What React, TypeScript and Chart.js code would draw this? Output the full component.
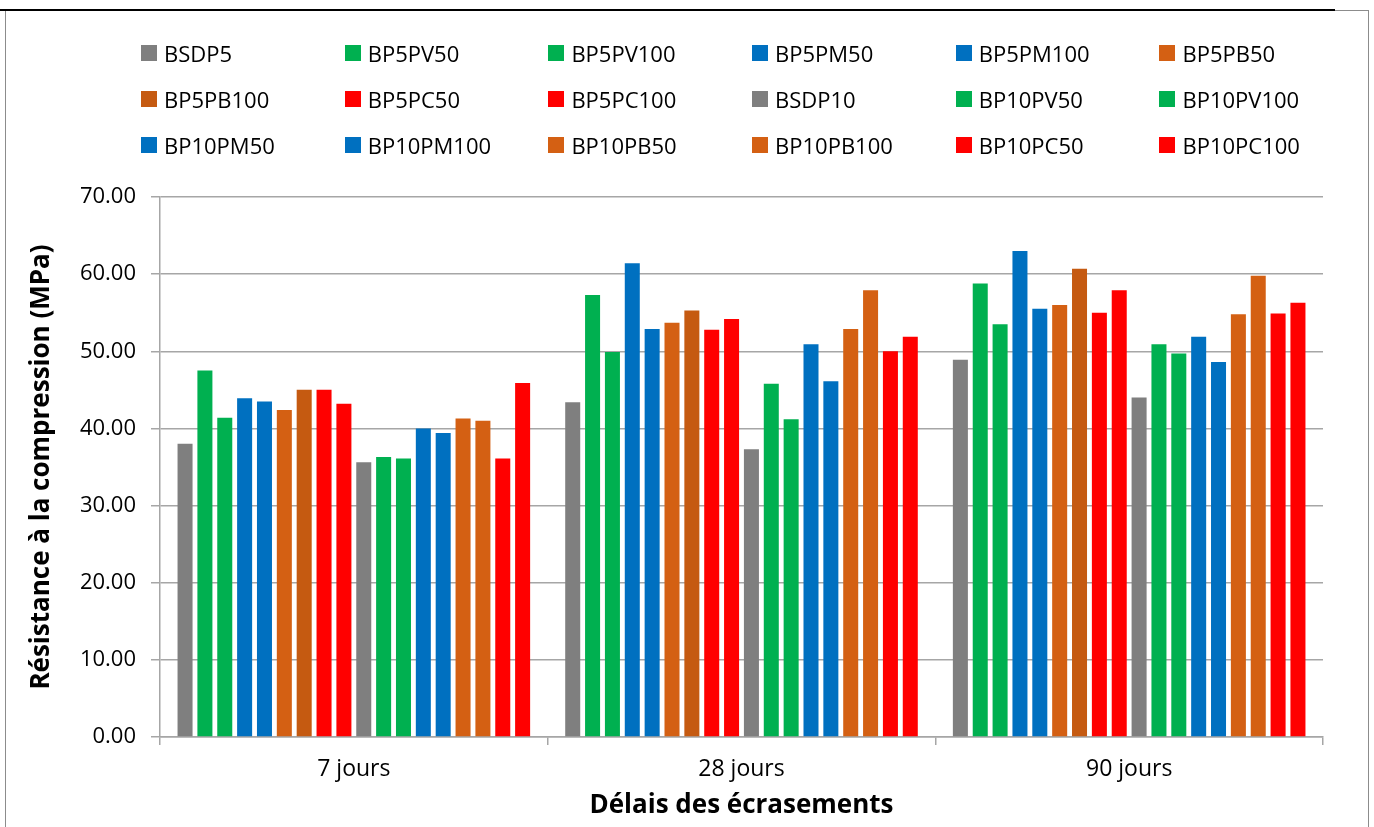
import React, { useEffect, useRef } from "react";
import { Chart, registerables } from "chart.js";

Chart.register(...registerables);

const categories = ["7 jours", "28 jours", "90 jours"];

const seriesNames = [
  "BSDP5", "BP5PV50", "BP5PV100", "BP5PM50", "BP5PM100", "BP5PB50",
  "BP5PB100", "BP5PC50", "BP5PC100", "BSDP10", "BP10PV50", "BP10PV100",
  "BP10PM50", "BP10PM100", "BP10PB50", "BP10PB100", "BP10PC50", "BP10PC100",
];

const BSDP5 = [38.0, 43.4, 48.9];
const BP5PV50 = [47.5, 57.3, 58.8];
const BP5PV100 = [41.4, 49.9, 53.5];
const BP5PM50 = [43.9, 61.4, 63.0];
const BP5PM100 = [43.5, 52.9, 55.5];
const BP5PB50 = [42.4, 53.7, 56.0];
const BP5PB100 = [45.0, 55.3, 60.7];
const BP5PC50 = [45.0, 52.8, 55.0];
const BP5PC100 = [43.2, 54.2, 57.9];
const BSDP10 = [35.6, 37.3, 44.0];
const BP10PV50 = [36.3, 45.8, 50.9];
const BP10PV100 = [36.1, 41.2, 49.7];
const BP10PM50 = [40.0, 50.9, 51.9];
const BP10PM100 = [39.4, 46.1, 48.6];
const BP10PB50 = [41.3, 52.9, 54.8];
const BP10PB100 = [41.0, 57.9, 59.8];
const BP10PC50 = [36.1, 50.0, 54.9];
const BP10PC100 = [45.9, 51.9, 56.3];

const seriesValues = [
  BSDP5, BP5PV50, BP5PV100, BP5PM50, BP5PM100, BP5PB50,
  BP5PB100, BP5PC50, BP5PC100, BSDP10, BP10PV50, BP10PV100,
  BP10PM50, BP10PM100, BP10PB50, BP10PB100, BP10PC50, BP10PC100,
];

const GRAY = "#7f7f7f";
const GREEN = "#00b050";
const BLUE = "#0070c0";
const ORANGE = "#d46013";
const DARK_ORANGE = "#c55a11";
const RED = "#ff0000";

const seriesColors = [
  GRAY, GREEN, GREEN, BLUE, BLUE, ORANGE,
  DARK_ORANGE, RED, RED, GRAY, GREEN, GREEN,
  BLUE, BLUE, ORANGE, ORANGE, RED, RED,
];

const yTicks = [0, 10, 20, 30, 40, 50, 60, 70];

const FONT = "'Open Sans', 'Liberation Sans', sans-serif";
const GRID = "#a6a6a6";

export default function App() {
  const canvasRef = useRef<HTMLCanvasElement | null>(null);

  useEffect(() => {
    if (!canvasRef.current) return;
    const chart = new Chart(canvasRef.current, {
      type: "bar",
      data: {
        labels: categories,
        datasets: seriesNames.map((name, i) => ({
          label: name,
          data: seriesValues[i],
          backgroundColor: seriesColors[i],
          borderWidth: 0,
          barPercentage: 0.756,
          categoryPercentage: 0.922,
        })),
      },
      options: {
        responsive: false,
        animation: false,
        layout: { padding: { left: 18, right: 51, top: 197, bottom: 0 } },
        plugins: {
          legend: { display: false },
          tooltip: { enabled: false },
        },
        scales: {
          x: {
            grid: {
              display: true,
              drawOnChartArea: false,
              drawTicks: true,
              tickLength: 8,
              color: GRID,
              lineWidth: 1.5,
            },
            border: { display: true, color: GRID, width: 1.5 },
            ticks: {
              color: "#000",
              font: { family: FONT, size: 23 },
              padding: 11,
            },
            title: {
              display: true,
              text: "Délais des écrasements",
              color: "#000",
              font: { family: FONT, size: 26, weight: "bold" },
              padding: { top: 0, bottom: 6 },
            },
            afterFit: (scale: any) => {
              scale.height = 90;
            },
          },
          y: {
            min: 0,
            max: 70,
            afterBuildTicks: (scale: any) => {
              scale.ticks = yTicks.map((v) => ({ value: v }));
            },
            grid: {
              color: GRID,
              lineWidth: 1.5,
              drawTicks: true,
              tickLength: 9,
            },
            border: { display: true, color: GRID, width: 1.5 },
            ticks: {
              color: "#000",
              font: { family: FONT, size: 22 },
              padding: 15,
              callback: (v: any) => Number(v).toFixed(2),
            },
            title: {
              display: true,
              text: "Résistance à la compression (MPa)",
              color: "#000",
              font: { family: FONT, size: 26, weight: "bold" },
              padding: { top: 8, bottom: 0 },
            },
            afterFit: (scale: any) => {
              scale.width = 142;
            },
          },
        },
      },
    });
    return () => chart.destroy();
  }, []);

  return (
    <div
      style={{
        position: "absolute",
        left: 0,
        top: 0,
        width: 1374,
        height: 827,
        overflow: "hidden",
        background: "#fff",
      }}
    >
      <div
        style={{
          position: "absolute",
          left: 5,
          top: 10,
          width: 1362,
          height: 860,
          border: "1px solid #8c8c8c",
        }}
      />
      <div
        style={{
          position: "absolute",
          left: 0,
          top: 9,
          width: 1335,
          height: 2,
          background: "#000",
        }}
      />
      <canvas
        ref={canvasRef}
        width={1374}
        height={827}
        style={{ position: "absolute", left: 0, top: 0 }}
      />
      <div
        style={{
          position: "absolute",
          left: 141,
          top: 30,
          display: "grid",
          gridTemplateColumns: "repeat(6, 203.7px)",
          gridAutoRows: "46px",
          fontFamily: FONT,
          fontSize: 22,
          color: "#000",
        }}
      >
        {seriesNames.map((name, i) => (
          <div
            key={name}
            style={{ display: "flex", alignItems: "center", lineHeight: 1 }}
          >
            <span
              style={{
                display: "inline-block",
                width: 16,
                height: 16,
                background: seriesColors[i],
                marginRight: 7,
              }}
            />
            <span>{name}</span>
          </div>
        ))}
      </div>
    </div>
  );
}
